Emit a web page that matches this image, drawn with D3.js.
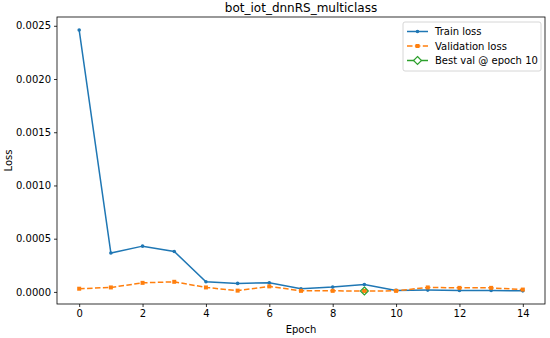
<!DOCTYPE html>
<html>
<head>
<meta charset="utf-8">
<script src="https://cdn.jsdelivr.net/npm/d3@7"></script>
<style>
  body { margin: 0; background: #fff; }
  text { font-family: "DejaVu Sans", sans-serif; fill: #000; }
</style>
</head>
<body>
<div id="vis"></div>
<script>
// data
const epochs = [0, 1, 2, 3, 4, 5, 6, 7, 8, 9, 10, 11, 12, 13, 14];
const trainLoss = [0.00246, 0.000365, 0.00043, 0.00038, 0.000095, 0.00008, 0.000085,
                   0.00003, 0.000045, 0.00007, 0.000014, 0.000017, 0.000014, 0.000014, 0.00001];
const valLoss = [0.00003, 0.000042, 0.000085, 0.000095, 0.000042, 0.000012, 0.000052,
                 0.00001, 0.00001, 0.000009, 0.00001, 0.000042, 0.000038, 0.000038, 0.000022];
const bestEpoch = 9;
const xTicks = [0, 2, 4, 6, 8, 10, 12, 14];
const yTicks = [0, 0.0005, 0.001, 0.0015, 0.002, 0.0025];
const legendLabels = ["Train loss", "Validation loss", "Best val @ epoch 10"];

const WIDTH = 550, HEIGHT = 338;
const MARGINS = {left: 57, right: 5, top: 17, bottom: 34};
const VIS_WIDTH = WIDTH - MARGINS.left - MARGINS.right;
const VIS_HEIGHT = HEIGHT - MARGINS.top - MARGINS.bottom;
const BLUE = "#1f77b4", ORANGE = "#ff7f0e", GREEN = "#2ca02c";

const svg = d3.select("#vis").append("svg")
  .attr("width", WIDTH).attr("height", HEIGHT);

// matplotlib style 5% margins
const allY = trainLoss.concat(valLoss);
const yMin = d3.min(allY), yMax = d3.max(allY);
const yPad = (yMax - yMin) * 0.05;
const xPad = (14 - 0) * 0.05;

const X_SCALE = d3.scaleLinear().domain([0 - xPad, 14 + xPad]).range([0, VIS_WIDTH]);
const Y_SCALE = d3.scaleLinear().domain([yMin - yPad, yMax + yPad]).range([VIS_HEIGHT, 0]);

const g = svg.append("g").attr("transform", `translate(${MARGINS.left},${MARGINS.top})`);

// axes
const xAxis = g.append("g")
  .attr("transform", `translate(0,${VIS_HEIGHT})`)
  .call(d3.axisBottom(X_SCALE).tickValues(xTicks).tickSize(3).tickPadding(3).tickFormat(d3.format("d")));
const yAxis = g.append("g")
  .call(d3.axisLeft(Y_SCALE).tickValues(yTicks).tickSize(3).tickPadding(3).tickFormat(d3.format(".4f")));
[xAxis, yAxis].forEach(a => {
  a.select(".domain").remove();
  a.selectAll("text").attr("font-size", "10px").attr("font-family", "DejaVu Sans").attr("fill", "#000");
  a.selectAll("line").attr("stroke", "#000").attr("stroke-width", 0.8);
});

// lines
const line = d3.line().x((d, i) => X_SCALE(epochs[i])).y(d => Y_SCALE(d));

g.append("path").datum(trainLoss)
  .attr("d", line).attr("fill", "none").attr("stroke", BLUE).attr("stroke-width", 1.5);
g.selectAll(".tdot").data(trainLoss).enter().append("circle")
  .attr("cx", (d, i) => X_SCALE(epochs[i])).attr("cy", d => Y_SCALE(d))
  .attr("r", 1.8).attr("fill", BLUE);

g.append("path").datum(valLoss)
  .attr("d", line).attr("fill", "none").attr("stroke", ORANGE).attr("stroke-width", 1.5)
  .attr("stroke-dasharray", "5.5,2.4");
g.selectAll(".vsq").data(valLoss).enter().append("rect")
  .attr("x", (d, i) => X_SCALE(epochs[i]) - 2).attr("y", d => Y_SCALE(d) - 2)
  .attr("width", 4).attr("height", 4).attr("fill", ORANGE);

// best val marker
const diamond = d3.symbol().type(d3.symbolDiamond2).size(40);
g.append("path")
  .attr("d", diamond)
  .attr("transform", `translate(${X_SCALE(epochs[bestEpoch])},${Y_SCALE(valLoss[bestEpoch])})`)
  .attr("fill", "none").attr("stroke", GREEN).attr("stroke-width", 1.2);

// frame
g.append("rect").attr("width", VIS_WIDTH).attr("height", VIS_HEIGHT)
  .attr("fill", "none").attr("stroke", "#000").attr("stroke-width", 0.8);

// title and labels
svg.append("text").attr("x", MARGINS.left + VIS_WIDTH / 2).attr("y", 12)
  .attr("text-anchor", "middle").attr("font-size", "12px").text("bot_iot_dnnRS_multiclass");
svg.append("text").attr("x", MARGINS.left + VIS_WIDTH / 2).attr("y", 333)
  .attr("text-anchor", "middle").attr("font-size", "10px").text("Epoch");
svg.append("text").attr("transform", `translate(12,${MARGINS.top + VIS_HEIGHT / 2}) rotate(-90)`)
  .attr("text-anchor", "middle").attr("font-size", "10px").text("Loss");

// legend
const leg = g.append("g").attr("transform", `translate(${VIS_WIDTH - 142},5)`);
leg.append("rect").attr("width", 138).attr("height", 49).attr("rx", 2)
  .attr("fill", "#fff").attr("fill-opacity", 0.8).attr("stroke", "#ccc").attr("stroke-width", 0.8);
const colors = [BLUE, ORANGE, GREEN];
legendLabels.forEach((lab, i) => {
  const y = 9.5 + i * 14.5;
  const item = leg.append("g").attr("transform", `translate(0,${y})`);
  const ln = item.append("line").attr("x1", 4).attr("x2", 25).attr("y1", 0).attr("y2", 0)
    .attr("stroke", colors[i]).attr("stroke-width", 1.5);
  if (i === 0) item.append("circle").attr("cx", 14.5).attr("cy", 0).attr("r", 1.8).attr("fill", BLUE);
  if (i === 1) {
    ln.attr("stroke-dasharray", "5.5,2.4");
    item.append("rect").attr("x", 12.5).attr("y", -2).attr("width", 4).attr("height", 4).attr("fill", ORANGE);
  }
  if (i === 2) item.append("path").attr("d", diamond).attr("transform", "translate(14.5,0)")
    .attr("fill", "#fff").attr("stroke", GREEN).attr("stroke-width", 1.2);
  item.append("text").attr("x", 32).attr("y", 3.6).attr("font-size", "10px").text(lab);
});
</script>
</body>
</html>
